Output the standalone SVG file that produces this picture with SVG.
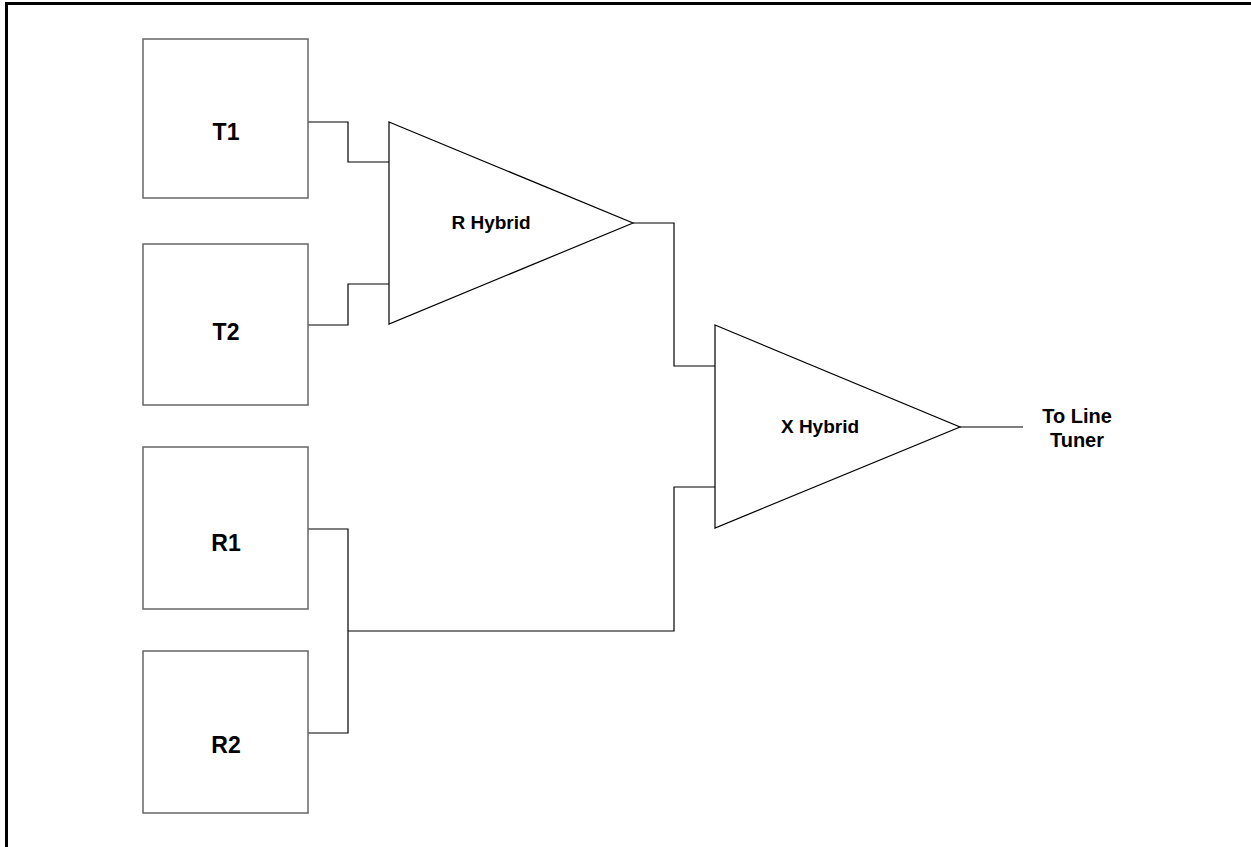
<svg xmlns="http://www.w3.org/2000/svg" width="1251" height="847" viewBox="0 0 1251 847">
  <style>
    .box { fill: #ffffff; stroke: #666666; stroke-width: 1.5; }
    .amp { fill: #ffffff; stroke: #000000; stroke-width: 1.2; }
    .wire { fill: none; stroke: #000000; stroke-width: 1.2; }
    .lbl { font-family: "Liberation Sans", Arial, sans-serif; font-weight: bold; fill: #000000; text-anchor: middle; }
    .big { font-size: 23px; }
    .mid { font-size: 19px; }
    .out { font-size: 20px; }
  </style>
  <rect width="1251" height="847" fill="#ffffff"/>
  <!-- frame -->
  <path d="M6.5 847 V3.5 H1251" fill="none" stroke="#000000" stroke-width="3"/>

  <g id="connectors">
    <path class="wire" d="M308 122 H348 V162 H389"/>
    <path class="wire" d="M308 325 H348 V284 H389"/>
    <path class="wire" d="M633 223 H674 V366 H715"/>
    <path class="wire" d="M308 529 H348 V733 H308"/>
    <path class="wire" d="M348 631 H674 V487 H715"/>
    <path class="wire" d="M960 427 H1023"/>
  </g>

  <g id="T1">
    <rect class="box" x="143" y="39" width="165" height="159"/>
    <text class="lbl big" x="226" y="140">T1</text>
  </g>
  <g id="T2">
    <rect class="box" x="143" y="244" width="165" height="161"/>
    <text class="lbl big" x="226" y="340">T2</text>
  </g>
  <g id="R1">
    <rect class="box" x="143" y="447" width="165" height="162"/>
    <text class="lbl big" x="226" y="551">R1</text>
  </g>
  <g id="R2">
    <rect class="box" x="143" y="651" width="165" height="162"/>
    <text class="lbl big" x="226" y="753">R2</text>
  </g>
  <g id="RHybrid">
    <polygon class="amp" points="389,122 633,223 389,324"/>
    <text class="lbl mid" x="491" y="229">R Hybrid</text>
  </g>
  <g id="XHybrid">
    <polygon class="amp" points="715,325 960,427 715,528"/>
    <text class="lbl mid" x="820" y="433">X Hybrid</text>
  </g>
  <g id="LineTuner">
    <text class="lbl out" x="1077" y="423">To Line</text>
    <text class="lbl out" x="1077" y="447">Tuner</text>
  </g>
</svg>
